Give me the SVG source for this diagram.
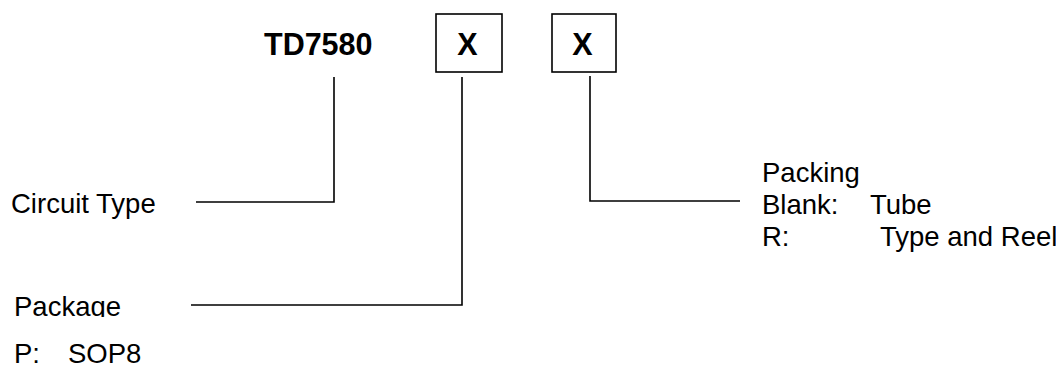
<svg xmlns="http://www.w3.org/2000/svg" width="1056" height="367" viewBox="0 0 1056 367">
<style>
text{font-family:"Liberation Sans",Arial,sans-serif;fill:#000}
.t{font-size:27.5px}
.b{font-size:30.5px;font-weight:bold}
.box{fill:#fff;stroke:#000;stroke-width:1.6}
.ln{fill:none;stroke:#000;stroke-width:1.6}
</style>
<defs>
<clipPath id="pkgclip"><rect x="0" y="280" width="200" height="37"/></clipPath>
</defs>
<rect width="1056" height="367" fill="#fff"/>
<g id="part-number">
<text class="b" x="264" y="55">TD7580</text>
</g>
<g id="box-package">
<rect class="box" x="436" y="14" width="66" height="58"/>
<text class="b" x="467.5" y="55" text-anchor="middle">X</text>
</g>
<g id="box-packing">
<rect class="box" x="552" y="14" width="64" height="58"/>
<text class="b" x="582.5" y="55" text-anchor="middle">X</text>
</g>
<g id="label-circuit">
<text class="t" x="11" y="213">Circuit Type</text>
</g>
<g id="label-package">
<text class="t" x="14" y="315.5" clip-path="url(#pkgclip)">Package</text>
<text class="t" x="14" y="363">P:</text>
<text class="t" x="68" y="363">SOP8</text>
</g>
<g id="label-packing">
<text class="t" x="762" y="182">Packing</text>
<text class="t" x="762" y="214">Blank:</text>
<text class="t" x="870" y="214">Tube</text>
<text class="t" x="762" y="246">R:</text>
<text class="t" x="880" y="246">Type and Reel</text>
</g>
<g id="connectors">
<path class="ln" d="M334,77 V202 H196"/>
<path class="ln" d="M462,77 V305 H191"/>
<path class="ln" d="M590,76 V201 H740"/>
</g>
</svg>
